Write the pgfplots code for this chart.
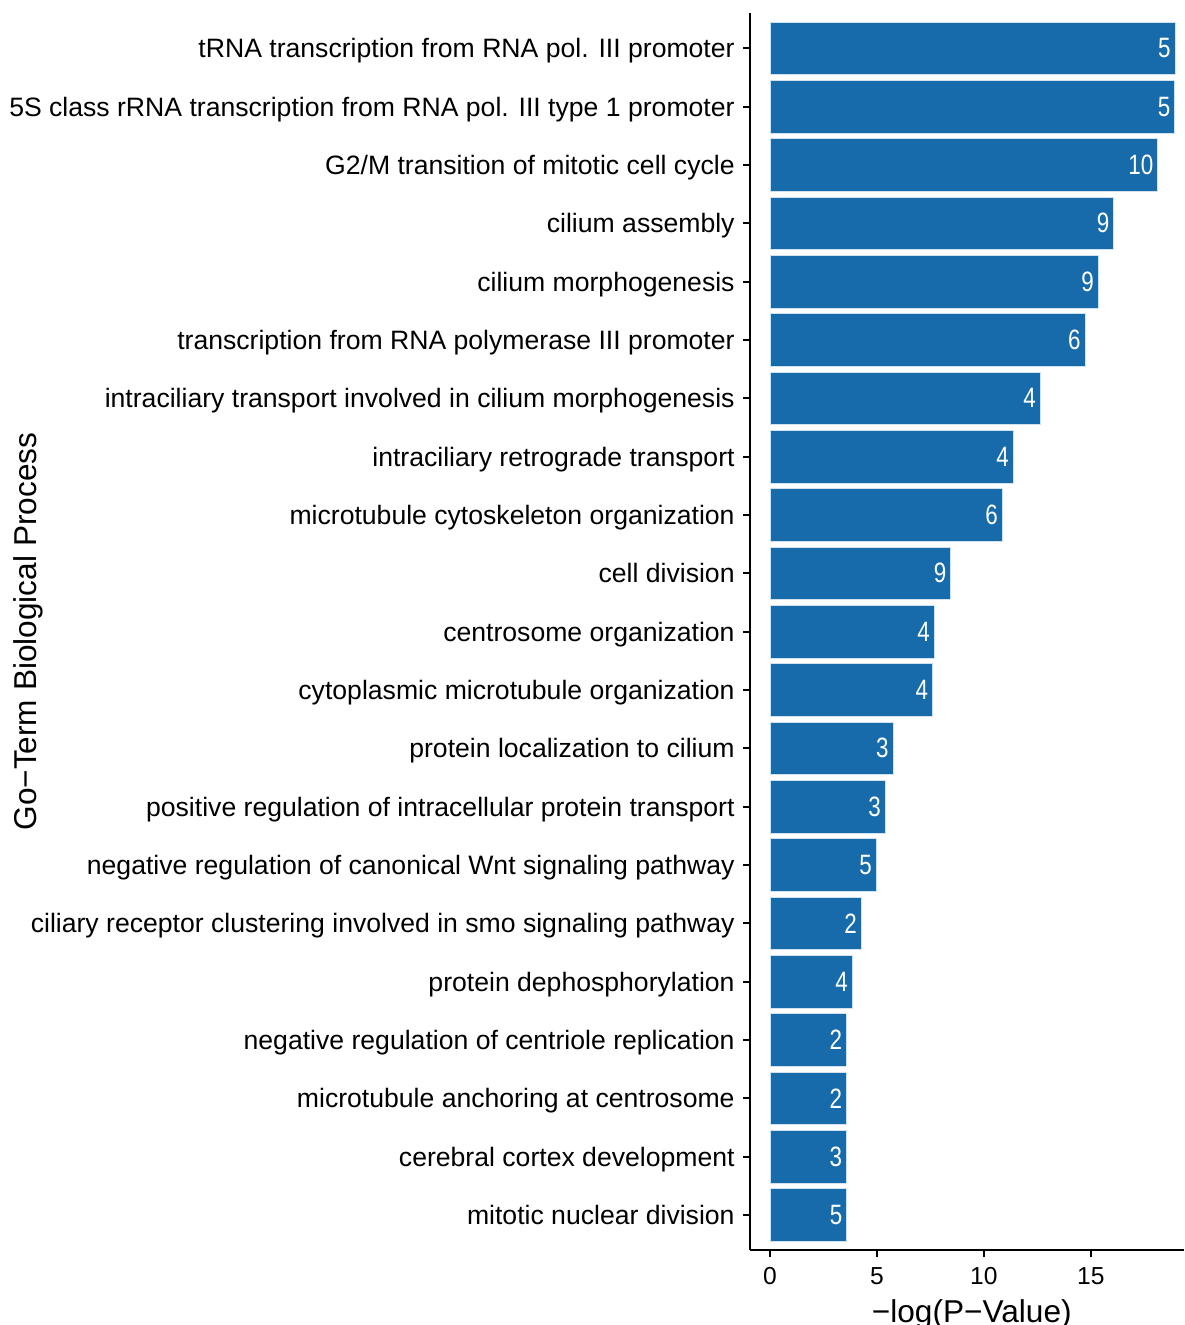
\documentclass[border=0pt]{standalone}
\usepackage{fontspec}
\setmainfont{Liberation Sans}
\usepackage{graphicx}
\usepackage{pgfplots}
\pgfplotsset{compat=1.18}
\usepackage{pgfplotstable}
\definecolor{barblue}{RGB}{23,107,171}
\pgfplotstableread{
y x n
1 3.58 5
2 3.57 3
3 3.57 2
4 3.57 2
5 3.84 4
6 4.26 2
7 4.96 5
8 5.38 3
9 5.75 3
10 7.59 4
11 7.67 4
12 8.45 9
13 10.85 6
14 11.37 4
15 12.63 4
16 14.73 6
17 15.34 9
18 16.07 9
19 18.13 10
20 18.92 5
21 18.93 5
}\datatable
\begin{document}
\begin{tikzpicture}
\useasboundingbox (0,0) rectangle (592pt,662.5pt);
\begin{axis}[
  at={(375pt,37.5pt)}, anchor=south west,
  scale only axis,
  width=217pt, height=618.35pt,
  xmin=-0.935, xmax=19.36,
  ymin=0.4, ymax=21.6,
  axis x line*=bottom, axis y line*=left,
  axis line style={line width=1.2pt,-},
  tick style={line width=1.1pt, black},
  tick align=outside,
  major tick length=3.5pt,
  xtick={0,5,10,15},
  ytick={1,...,21},
  yticklabels={
    {mitotic nuclear division},
    {cerebral cortex development},
    {microtubule anchoring at centrosome},
    {negative regulation of centriole replication},
    {protein dephosphorylation},
    {ciliary receptor clustering involved in smo signaling pathway},
    {negative regulation of canonical Wnt signaling pathway},
    {positive regulation of intracellular protein transport},
    {protein localization to cilium},
    {cytoplasmic microtubule organization},
    {centrosome organization},
    {cell division},
    {microtubule cytoskeleton organization},
    {intraciliary retrograde transport},
    {intraciliary transport involved in cilium morphogenesis},
    {transcription from RNA polymerase III promoter},
    {cilium morphogenesis},
    {cilium assembly},
    {G2/M transition of mitotic cell cycle},
    {5S class rRNA transcription from RNA pol. III type 1 promoter},
    {tRNA transcription from RNA pol. III promoter}},
  yticklabel style={font=\fontsize{13.3}{15}\selectfont, text=black, anchor=base east, inner sep=0pt, xshift=-4pt, yshift=-4.75pt},
  xticklabel style={font=\fontsize{12.3}{15}\selectfont, text=black, inner sep=0pt, yshift=-5pt},
  /pgf/number format/assume math mode=true,
  xlabel={−log(P−Value)},
  ylabel={Go−Term Biological Process},
  xlabel style={font=\fontsize{15.8}{18}\selectfont, at={(axis description cs:0.511,0)}, anchor=center, yshift=-32pt},
  ylabel style={font=\fontsize{15.8}{18}\selectfont, at={(axis description cs:-1.6636,0.5)}, anchor=center, rotate=0},
  xbar, bar width=0.9,
  point meta=explicit,
  nodes near coords={\scalebox{0.8}[1]{\pgfmathprintnumber{\pgfplotspointmeta}}},
  nodes near coords style={anchor=east, text=white, font=\fontsize{14}{16}\selectfont, inner sep=2pt},
  clip=false,
]
\addplot[fill=barblue, draw=white!80!barblue, line width=0.3pt] table[x=x, y=y, meta=n] {\datatable};
\end{axis}
\end{tikzpicture}
\end{document}
